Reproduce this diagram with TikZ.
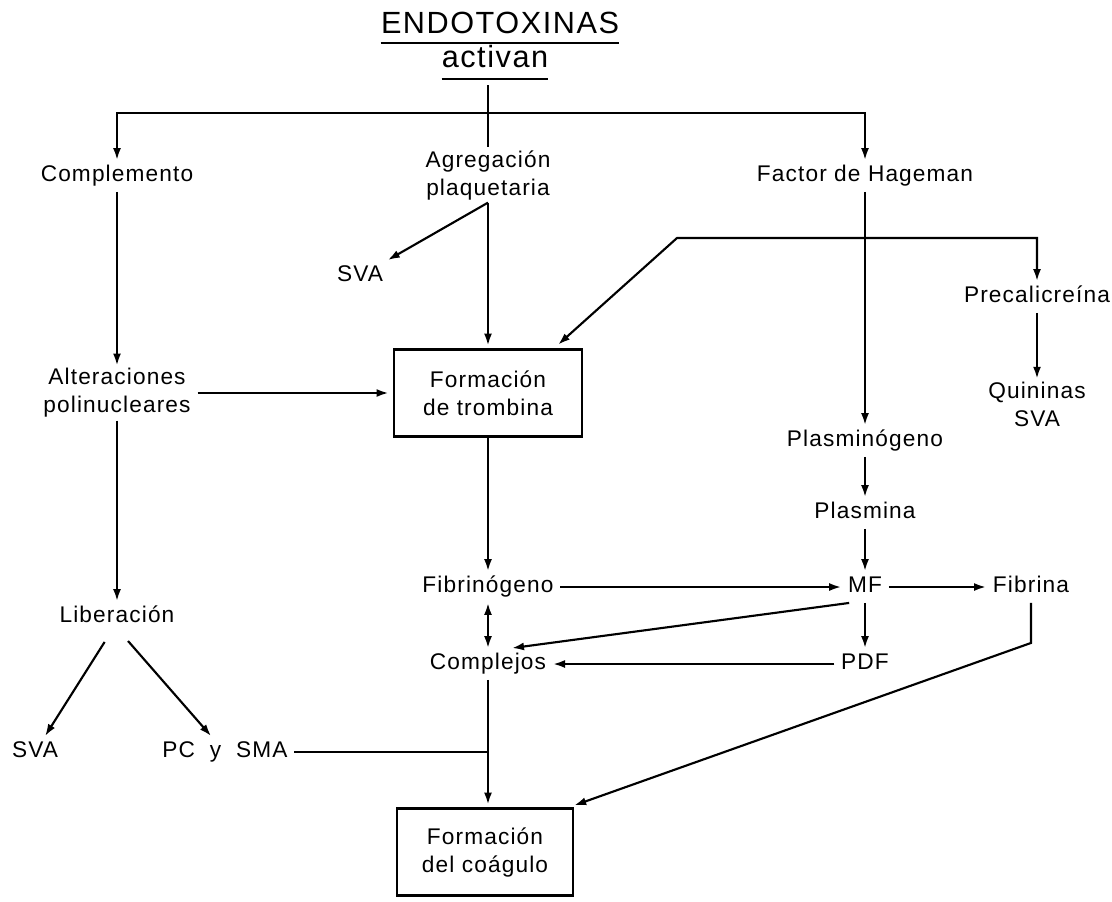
\documentclass[tikz,border=0pt]{standalone}
\usepackage{fontspec}
\setmainfont{Liberation Sans}[LetterSpace=5]
\usetikzlibrary{arrows.meta}
\begin{document}
\begin{tikzpicture}[x=0.75pt,y=-0.75pt,
  >={Latex[length=9pt,width=6pt]},
  txt/.style={font=\fontsize{17}{21}\selectfont,inner xsep=5pt,inner ysep=4pt,text height=12pt,text depth=3.5pt},
  txt2/.style={font=\fontsize{17}{21}\selectfont,align=center,inner xsep=5pt,inner ysep=2pt},
  box/.style={txt2,draw,line width=2.2pt,minimum width=141pt,minimum height=65pt},
  ttl/.style={font=\fontsize{23}{28}\selectfont,inner sep=0pt},
  line/.style={line width=1.6pt},
  arr/.style={line,->},
  dbl/.style={line,<->},
  uline/.style={line width=1.6pt}]
      \useasboundingbox[fill=white] (0,0) rectangle (1112,901);
      \node[ttl,anchor=base] (endo) at (500,33) {ENDOTOXINAS};
      \node[ttl,anchor=base] (act) at (495,67) {activan};
      \node[txt] (comp) at (117,176) {Complemento};
      \node[txt2] (agr) at (488,175) {Agregación\\plaquetaria};
      \node[txt] (hag) at (865,176) {Factor de Hageman};
      \node[txt] (sva1) at (360,276) {SVA};
      \node[txt] (prec) at (1037,297) {Precalicreína};
      \node[txt2] (alt) at (117,393) {Alteraciones\\polinucleares};
      \node[box] (trom) at (488,393) {Formación\\de trombina};
      \node[txt2] (quin) at (1037,404) {Quininas\\SVA};
      \node[txt] (plg) at (865,441) {Plasminógeno};
      \node[txt] (pla) at (865,513) {Plasmina};
      \node[txt] (fib) at (488,587) {Fibrinógeno};
      \node[txt] (mf) at (865,587) {MF};
      \node[txt] (fna) at (1031,587) {Fibrina};
      \node[txt] (lib) at (117,617) {Liberación};
      \node[txt] (cpx) at (488,664) {Complejos};
      \node[txt] (pdf) at (865,664) {PDF};
      \node[txt] (sva2) at (35,752) {SVA};
      \node[txt] (pcsma) at (225,752) {PC~~y~~SMA};
      \node[box,minimum width=132pt] (coag) at (485,852) {Formación\\del coágulo};
      \coordinate (top) at (488,113);
      \coordinate (knee) at (677,238);
      \draw[uline] ([yshift=-7.5pt]endo.base west) -- ([yshift=-7.5pt]endo.base east);
      \draw[uline] ([yshift=-9pt]act.base west) -- ([yshift=-9pt]act.base east);
      \draw[line] (agr.north |- act.base) ++(0,18) -- (agr.north);
      \draw[arr] (top) -| (comp.north);
      \draw[arr] (top) -| (hag.north);
      \draw[arr,shorten >=2pt] (agr.south) -- (trom.north);
      \draw[arr] (agr.south) -- (sva1);
      \draw[arr] (comp) -- (alt);
      \draw[arr,shorten >=3pt] (alt) -- (trom);
      \draw[arr] (alt) -- (lib);
      \draw[arr,shorten <=8pt] ([xshift=-5pt]lib.south) -- (sva2);
      \draw[arr,shorten <=8pt] ([xshift=3pt]lib.south) -- (pcsma);
      \draw[line] (pcsma) -- (pcsma -| cpx.south);
      \draw[arr,shorten >=2pt] (cpx.south) -- (cpx.south |- coag.north);
      \draw[arr] (trom.south) -- (fib.north);
      \draw[dbl] (fib) -- (cpx);
      \draw[arr] (fib) -- (mf);
      \draw[arr] (mf) -- (fna);
      \draw[arr] (hag) -- (plg);
      \draw[arr] (plg) -- (pla);
      \draw[arr] (pla) -- (mf);
      \draw[arr] (mf) -- (pdf);
      \draw[arr] (pdf) -- (cpx);
      \draw[arr] ([xshift=6pt]mf.south west) -- ([xshift=18pt]cpx.north);
      \draw[dbl,shorten <=4pt] ([xshift=-22pt]trom.north east) -- (knee) -| (prec.north);
      \draw[arr] (prec) -- (quin);
      \draw[arr,shorten >=4pt] (fna.south) -- ++(0,40) -- ([xshift=-4pt]coag.north east);
\end{tikzpicture}
\end{document}
